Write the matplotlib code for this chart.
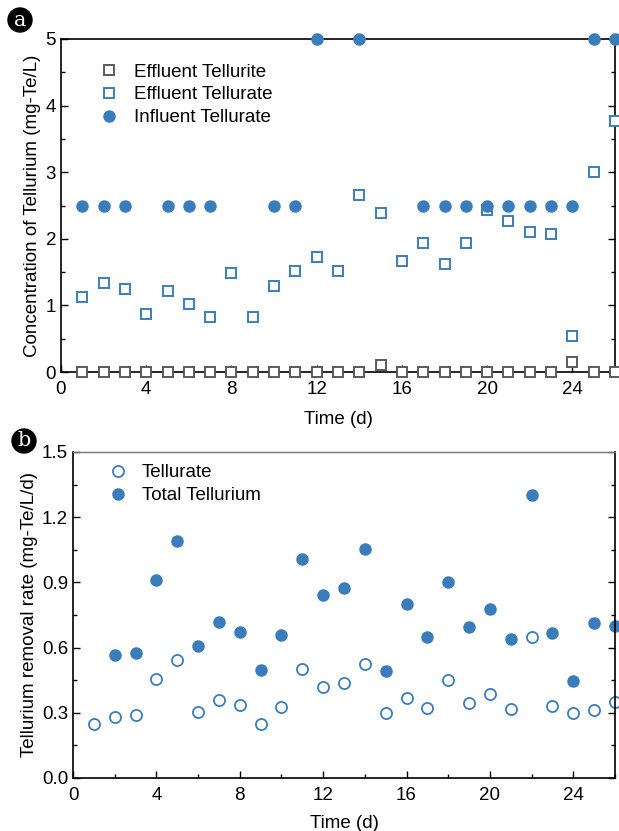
import matplotlib.pyplot as plt
from matplotlib.ticker import MultipleLocator
import numpy as np

plt.rcParams["font.family"] = ["Liberation Sans", "DejaVu Sans"]

BLUE = "#3a7dbd"
GREY = "#5a5a5a"
FS = 13.5

# Панель a — концентрации
days = np.arange(1, 27)
effluent_tellurite = [0, 0, 0, 0, 0, 0, 0, 0, 0, 0, 0, 0, 0, 0, 0.10, 0,
                      0, 0, 0, 0, 0, 0, 0, 0.15, 0, 0]
effluent_tellurate = [1.12, 1.34, 1.25, 0.87, 1.22, 1.02, 0.83, 1.48, 0.83,
                      1.29, 1.51, 1.72, 1.51, 2.66, 2.38, 1.67, 1.94, 1.62,
                      1.93, 2.43, 2.27, 2.10, 2.07, 0.54, 3.00, 3.77]
influent_days = [1, 2, 3, 5, 6, 7, 10, 11, 12, 14, 17, 18, 19, 20, 21, 22,
                 23, 24, 25, 26]
influent_tellurate = [2.5, 2.5, 2.5, 2.5, 2.5, 2.5, 2.5, 2.5, 5.0, 5.0, 2.5,
                      2.5, 2.5, 2.5, 2.5, 2.5, 2.5, 2.5, 5.0, 5.0]

# Панель b — скорости удаления
tellurate_rate = [0.25, 0.282, 0.289, 0.456, 0.543, 0.302, 0.359, 0.336,
                  0.25, 0.328, 0.503, 0.42, 0.437, 0.526, 0.299, 0.367,
                  0.324, 0.451, 0.347, 0.387, 0.318, 0.65, 0.331, 0.30,
                  0.311, 0.35]
total_days = np.arange(2, 27)
total_rate = [0.567, 0.577, 0.911, 1.092, 0.607, 0.718, 0.673, 0.497, 0.659,
              1.008, 0.842, 0.876, 1.052, 0.491, 0.80, 0.65, 0.902, 0.696,
              0.776, 0.638, 1.30, 0.666, 0.448, 0.715, 0.70]


def _style(ax):
    ax.tick_params(which="both", direction="in", labelsize=FS,
                   right=True, top=False, labelright=False)
    ax.tick_params(which="major", length=5, width=1)
    ax.tick_params(which="minor", length=3, width=1)
    ax.tick_params(axis="x", pad=6.5)
    ax.xaxis.set_major_locator(MultipleLocator(4))
    ax.xaxis.set_minor_locator(MultipleLocator(2))
    for s in ax.spines.values():
        s.set_linewidth(1.2)


def _badge(fig, x, y, letter):
    fig.text(x, y, letter, ha="center", va="center", color="white",
             fontsize=15, family="DejaVu Serif",
             bbox=dict(boxstyle="circle,pad=0.12", fc="black", ec="black"))


fig = plt.figure(figsize=(6.19, 8.31), dpi=100)

ax1 = fig.add_axes([0.0985, 0.5523, 0.895, 0.4008])
ax1.plot(days, effluent_tellurite, ls="none", marker="s", ms=7.5, mfc="white",
         mec=GREY, mew=1.4, label="Effluent Tellurite", clip_on=False, zorder=4)
ax1.plot(days, effluent_tellurate, ls="none", marker="s", ms=7.5, mfc="white",
         mec=BLUE, mew=1.4, label="Effluent Tellurate", clip_on=False, zorder=3)
ax1.plot(influent_days, influent_tellurate, ls="none", marker="o", ms=8,
         color=BLUE, label="Influent Tellurate", clip_on=False, zorder=3)
ax1.set_xlim(0, 26)
ax1.set_ylim(0, 5)
ax1.yaxis.set_major_locator(MultipleLocator(1))
ax1.yaxis.set_minor_locator(MultipleLocator(0.5))
_style(ax1)
ax1.set_xlabel("Time (d)", fontsize=FS, labelpad=9)
ax1.set_ylabel("Concentration of Tellurium (mg-Te/L)", fontsize=FS,
               labelpad=3)
ax1.legend(loc="upper left", bbox_to_anchor=(0.04, 0.977), frameon=False,
           fontsize=FS, handletextpad=0.8, labelspacing=0.3,
           handlelength=1.0)

ax2 = fig.add_axes([0.118, 0.0638, 0.8755, 0.3923])
ax2.plot(days, tellurate_rate, ls="none", marker="o", ms=8, mfc="white",
         mec=BLUE, mew=1.3, label="Tellurate", clip_on=False)
ax2.plot(total_days, total_rate, ls="none", marker="o", ms=8, color=BLUE,
         label="Total Tellurium", clip_on=False)
ax2.set_xlim(0, 26)
ax2.set_ylim(0, 1.5)
ax2.yaxis.set_major_locator(MultipleLocator(0.3))
ax2.yaxis.set_minor_locator(MultipleLocator(0.15))
ax2.yaxis.set_major_formatter(plt.FormatStrFormatter("%.1f"))
_style(ax2)
ax2.spines["top"].set_color("#777777")
ax2.spines["top"].set_linewidth(1.0)
ax2.set_xlabel("Time (d)", fontsize=FS, labelpad=8)
ax2.set_ylabel("Tellurium removal rate (mg-Te/L/d)", fontsize=FS,
               labelpad=3)
ax2.legend(loc="upper left", bbox_to_anchor=(0.034, 1.014), frameon=False,
           fontsize=FS, handletextpad=0.8, labelspacing=0.3,
           handlelength=1.0)

_badge(fig, 20 / 619, 1 - 20 / 831, "a")
_badge(fig, 24 / 619, 1 - 441 / 831, "b")

fig.savefig("out.png", dpi=100)
